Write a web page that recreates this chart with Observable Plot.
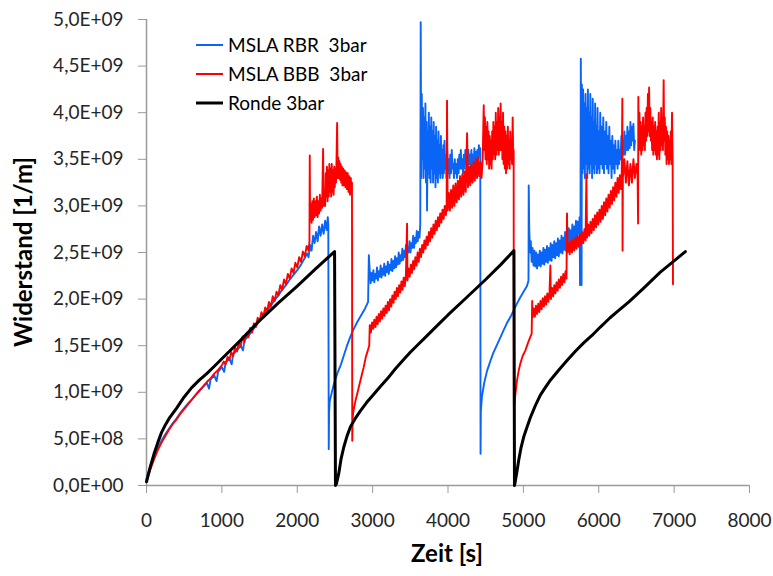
<!DOCTYPE html>
<html>
<head>
<meta charset="utf-8">
<script src="https://cdn.jsdelivr.net/npm/d3@7"></script>
<script src="https://cdn.jsdelivr.net/npm/@observablehq/plot@0.6"></script>
<style>
  html, body { margin: 0; padding: 0; background: #fff; }
  svg { display: block; }
</style>
</head>
<body>
<div id="chart"></div>
<script>
// ---- Data (time in s, Widerstand in units of 1E+09 1/m) ----
const seriesNames = ["MSLA RBR  3bar", "MSLA BBB  3bar", "Ronde 3bar"];
const xTicks = [0, 1000, 2000, 3000, 4000, 5000, 6000, 7000, 8000];
const yTicks = [0, 0.5e9, 1e9, 1.5e9, 2e9, 2.5e9, 3e9, 3.5e9, 4e9, 4.5e9, 5e9];

const rbr = [
  [0,0.07],[25,0.14],[50,0.2],[75,0.26],[100,0.31],[150,0.4],[200,0.48],[250,0.55],[300,0.61],[350,0.67],
  [400,0.72],[450,0.78],[500,0.83],[550,0.88],[600,0.92],[650,0.97],[700,1.01],[750,1.06],[800,1.10],[830,1.04],
  [850,1.14],[900,1.18],[930,1.12],[950,1.22],[1000,1.27],[1030,1.22],[1050,1.32],[1100,1.36],[1130,1.3],[1150,1.41],
  [1200,1.45],[1250,1.5],[1280,1.45],[1300,1.56],[1350,1.6],[1400,1.66],[1450,1.71],[1500,1.77],[1550,1.82],[1600,1.88],
  [1650,1.93],[1700,1.99],[1750,2.04],[1800,2.1],[1850,2.15],[1900,2.21],[1950,2.26],[2000,2.31],[2050,2.37],[2100,2.44],
  [2130,2.49],[2150,2.45],[2170,2.58],[2190,2.52],[2210,2.68],[2230,2.6],[2250,2.72],[2270,2.62],[2290,2.78],[2310,2.68],
  [2330,2.8],[2350,2.7],[2370,2.84],[2390,2.74],[2405,2.88],[2412,2.8],[2418,0.39],
  [2422,0.78],[2430,0.9],[2450,0.97],[2480,1.07],[2510,1.15],[2540,1.22],[2580,1.3],[2620,1.4],[2660,1.5],[2706,1.6],
  [2750,1.68],[2800,1.76],[2850,1.83],[2900,1.9],[2940,1.97],[2950,2.47],[2962,2.3],[2974,2.17],[2986,2.28],[2998,2.2],
  [3010,2.31],[3022,2.18],[3034,2.27],[3046,2.22],[3058,2.34],[3070,2.2],[3082,2.3],[3094,2.24],[3106,2.36],[3118,2.23],
  [3130,2.33],[3142,2.26],[3154,2.38],[3166,2.25],[3178,2.35],[3190,2.29],[3202,2.4],[3214,2.27],[3226,2.37],[3238,2.31],
  [3250,2.43],[3262,2.3],[3274,2.41],[3286,2.33],[3298,2.46],[3310,2.34],[3322,2.44],[3334,2.37],[3346,2.5],[3358,2.38],
  [3370,2.47],[3382,2.41],[3394,2.54],[3406,2.42],[3418,2.52],[3430,2.45],[3442,2.58],[3454,2.46],[3466,2.56],[3478,2.5],
  [3490,2.62],[3502,2.5],[3514,2.6],[3526,2.55],[3538,2.68],[3550,2.55],[3562,2.66],[3574,2.6],[3586,2.73],[3598,2.62],
  [3610,2.72],[3622,2.66],[3632,2.8],[3638,4.97],[3645,3.3],[3652,4.2],[3660,3.5],[3668,4.05],[3676,3.3],[3684,3.95],
  [3692,3.4],[3700,4.1],[3708,3.25],[3716,3.9],[3722,2.95],[3730,3.8],[3738,3.35],[3746,4.0],[3754,3.3],[3762,3.85],
  [3770,3.25],[3778,3.95],[3786,3.4],[3794,3.8],[3802,3.25],[3810,3.9],[3818,3.35],[3826,3.75],[3834,3.2],[3842,3.85],
  [3850,3.3],[3858,3.7],[3866,3.25],[3874,3.8],[3882,3.35],[3890,3.65],[3898,3.3],[3906,3.75],[3914,3.35],[3922,3.6],
  [3930,3.3],[3938,3.65],[3946,3.35],[3954,3.7],[3962,3.4],[3970,3.55],[3980,3.3],[3990,3.6],[4000,3.35],[4010,3.5],
  [4020,3.3],[4030,3.55],[4040,3.35],[4050,3.6],[4060,3.4],[4070,3.45],[4080,3.3],[4090,3.5],[4100,3.35],[4110,3.45],
  [4120,3.3],[4130,3.5],[4140,3.35],[4150,3.55],[4160,3.4],[4170,3.6],[4180,3.4],[4190,3.5],[4200,3.35],[4210,3.55],
  [4220,3.4],[4230,3.6],[4240,3.45],[4250,3.55],[4260,3.4],[4270,3.6],[4280,3.45],[4290,3.55],[4300,3.4],[4310,3.6],
  [4320,3.45],[4330,3.55],[4340,3.4],[4350,3.62],[4360,3.45],[4370,3.58],[4380,3.45],[4390,3.6],[4400,3.5],[4410,3.65],
  [4420,3.55],[4428,3.62],[4432,0.34],
  [4436,0.8],[4450,0.95],[4480,1.1],[4518,1.23],[4560,1.33],[4600,1.42],[4650,1.51],[4695,1.59],[4740,1.67],[4780,1.74],
  [4830,1.81],[4871,1.88],[4920,1.96],[4960,2.02],[5010,2.09],[5048,2.14],[5068,2.2],[5071,3.22],[5078,2.75],[5088,2.5],
  [5098,2.62],[5110,2.4],[5122,2.55],[5134,2.36],[5146,2.52],[5158,2.35],[5170,2.5],[5182,2.33],[5194,2.48],[5206,2.36],
  [5218,2.52],[5230,2.35],[5242,2.5],[5254,2.38],[5266,2.55],[5278,2.37],[5290,2.53],[5302,2.4],[5314,2.57],[5326,2.39],
  [5338,2.55],[5350,2.42],[5362,2.6],[5374,2.41],[5386,2.58],[5398,2.45],[5410,2.62],[5422,2.44],[5434,2.6],[5446,2.47],
  [5458,2.65],[5470,2.46],[5482,2.63],[5494,2.5],[5506,2.68],[5518,2.49],[5530,2.66],[5542,2.53],[5554,2.72],[5566,2.52],
  [5578,2.7],[5590,2.57],[5602,2.76],[5614,2.56],[5626,2.74],[5638,2.6],[5650,2.8],[5662,2.6],[5674,2.78],[5686,2.64],
  [5698,2.84],[5710,2.65],[5722,2.83],[5734,2.7],[5746,2.88],[5752,2.15],[5758,2.9],[5762,4.58],[5768,3.3],[5772,2.15],
  [5776,4.3],[5784,3.35],[5792,4.25],[5800,3.4],[5808,4.1],[5816,3.3],[5824,4.2],[5832,3.45],[5840,4.05],[5848,3.3],
  [5856,4.25],[5864,3.4],[5872,4.0],[5880,3.35],[5888,4.2],[5896,3.45],[5904,3.95],[5912,3.3],[5920,4.15],[5928,3.4],
  [5936,3.9],[5944,3.35],[5952,4.1],[5960,3.45],[5968,3.85],[5976,3.35],[5984,4.05],[5992,3.4],[6000,3.8],[6010,3.35],
  [6020,4.0],[6030,3.45],[6040,3.85],[6050,3.4],[6060,3.95],[6070,3.35],[6080,3.8],[6090,3.45],[6100,3.9],[6110,3.4],
  [6120,3.75],[6130,3.35],[6140,3.85],[6150,3.45],[6160,3.7],[6170,3.3],[6180,3.75],[6190,3.4],[6200,3.65],[6210,3.35],
  [6220,3.7],[6230,3.45],[6240,3.6],[6250,3.4],[6260,3.7],[6270,3.45],[6280,3.6],[6290,3.5],[6300,3.75],[6310,3.5],
  [6320,3.7],[6330,3.55],[6340,3.8],[6350,3.55],[6360,3.75],[6370,3.6],[6380,3.85],[6390,3.6],[6400,3.8],[6410,3.62],
  [6420,3.9],[6430,3.65],[6440,3.85],[6450,3.7],[6460,3.88],[6470,3.6],[6480,3.7]
];

const bbb = [
  [0,0.05],[25,0.11],[50,0.17],[100,0.28],[150,0.38],[200,0.46],[250,0.53],[300,0.6],[350,0.66],[400,0.71],
  [450,0.77],[500,0.82],[550,0.87],[600,0.92],[650,0.97],[700,1.02],[750,1.06],[800,1.11],[850,1.15],[900,1.2],
  [950,1.24],[1000,1.29],[1025,1.33],[1050,1.3],[1075,1.38],[1100,1.35],[1125,1.43],[1150,1.39],[1175,1.48],[1200,1.44],
  [1225,1.53],[1250,1.5],[1275,1.6],[1300,1.54],[1325,1.63],[1350,1.59],[1375,1.69],[1400,1.64],[1425,1.74],[1450,1.7],
  [1475,1.8],[1500,1.76],[1525,1.86],[1550,1.81],[1575,1.91],[1600,1.87],[1625,1.97],[1650,1.92],[1675,2.03],[1700,1.98],
  [1725,2.08],[1750,2.04],[1775,2.15],[1800,2.1],[1825,2.21],[1850,2.16],[1875,2.27],[1900,2.22],[1925,2.33],[1950,2.28],
  [1975,2.39],[2000,2.34],[2025,2.45],[2050,2.4],[2075,2.51],[2100,2.46],[2125,2.57],[2150,2.52],[2162,2.62],[2166,3.54],
  [2170,2.85],[2180,3.02],[2190,2.82],[2200,3.05],[2210,2.85],[2220,3.08],[2230,2.88],[2240,3.05],[2250,2.9],[2260,3.1],
  [2270,2.88],[2280,3.05],[2290,2.92],[2300,3.12],[2310,2.95],[2320,3.08],[2330,2.98],[2343,3.61],[2350,3.0],[2360,3.15],
  [2370,3.0],[2378,3.35],[2386,3.1],[2394,3.42],[2402,3.05],[2410,3.38],[2418,3.1],[2426,3.45],[2434,3.15],[2442,3.4],
  [2450,3.1],[2458,3.45],[2466,3.15],[2474,3.38],[2482,3.12],[2490,3.42],[2498,3.2],[2506,3.4],[2514,3.25],[2520,3.45],
  [2529,3.89],[2536,3.3],[2544,3.52],[2552,3.3],[2560,3.48],[2568,3.28],[2576,3.45],[2584,3.25],[2592,3.42],[2600,3.22],
  [2610,3.4],[2620,3.22],[2630,3.38],[2640,3.2],[2650,3.36],[2660,3.18],[2670,3.35],[2680,3.15],[2690,3.32],[2700,3.12],
  [2710,3.3],[2720,3.15],[2726,3.25],[2730,0.48],
  [2735,0.72],[2745,0.8],[2770,0.9],[2794,0.98],[2830,1.1],[2860,1.2],[2882,1.27],[2910,1.38],[2940,1.46],[2955,1.5],
  [2962,1.72],[2977,1.64],[2992,1.75],[3007,1.68],[3022,1.78],[3037,1.7],[3052,1.81],[3067,1.73],[3082,1.84],[3097,1.76],
  [3112,1.87],[3127,1.79],[3142,1.9],[3157,1.82],[3172,1.93],[3187,1.85],[3202,1.97],[3217,1.88],[3232,2.0],[3247,1.92],
  [3262,2.04],[3277,1.96],[3292,2.08],[3307,2.0],[3322,2.12],[3337,2.03],[3352,2.15],[3367,2.07],[3382,2.19],[3397,2.1],
  [3412,2.23],[3427,2.14],[3442,2.27],[3457,2.81],[3462,2.2],[3477,2.33],[3492,2.24],[3507,2.37],[3522,2.28],[3537,2.41],
  [3552,2.32],[3567,2.45],[3582,2.36],[3597,2.5],[3612,2.4],[3627,2.54],[3642,2.45],[3657,2.58],[3672,2.5],[3687,2.63],
  [3702,2.54],[3717,2.67],[3732,2.58],[3747,2.72],[3762,2.62],[3777,2.76],[3792,2.66],[3807,2.8],[3822,2.7],[3837,2.84],
  [3852,2.74],[3867,2.88],[3882,2.78],[3897,2.92],[3912,2.82],[3927,2.96],[3942,2.86],[3957,3.0],[3972,2.9],[3982,3.02],
  [3987,4.13],[3995,2.95],[4010,3.14],[4025,2.95],[4040,3.17],[4055,2.98],[4070,3.22],[4085,3.0],[4100,3.24],[4115,3.04],
  [4130,3.27],[4145,3.07],[4160,3.32],[4175,3.1],[4190,3.34],[4205,3.12],[4220,3.37],[4235,3.15],[4253,3.78],[4265,3.2],
  [4280,3.42],[4295,3.22],[4310,3.44],[4325,3.25],[4340,3.47],[4355,3.27],[4370,3.5],[4385,3.3],[4400,3.52],[4415,3.32],
  [4430,3.47],[4445,3.3],[4460,3.5],[4474,4.08],[4482,3.6],[4490,3.95],[4498,3.5],[4506,3.85],[4514,3.45],[4522,3.9],
  [4530,3.5],[4538,3.8],[4546,3.4],[4554,3.75],[4562,3.45],[4570,3.7],[4578,3.4],[4586,3.8],[4594,3.5],[4602,3.9],
  [4610,3.55],[4618,3.85],[4626,3.5],[4634,4.0],[4642,3.55],[4650,3.9],[4658,3.6],[4666,4.05],[4674,3.55],[4682,3.95],
  [4690,3.6],[4698,4.1],[4706,3.6],[4714,3.9],[4722,3.5],[4730,4.0],[4738,3.45],[4746,3.85],[4754,3.4],[4762,3.8],
  [4770,3.35],[4778,3.75],[4786,3.4],[4794,3.85],[4802,3.45],[4810,3.7],[4818,3.4],[4826,3.8],[4834,3.5],[4842,3.65],
  [4850,3.45],[4858,3.95],[4866,3.5],[4871,3.6],[4874,0.84],
  [4878,0.84],[4894,0.98],[4916,1.13],[4940,1.24],[4960,1.31],[4990,1.39],[5027,1.45],[5070,1.55],[5110,1.63],[5117,1.98],
  [5122,1.8],[5137,1.9],[5152,1.81],[5167,1.93],[5182,1.84],[5197,1.95],[5212,1.86],[5227,1.98],[5242,1.89],[5257,2.01],
  [5272,1.92],[5287,2.03],[5302,1.94],[5317,2.06],[5332,1.97],[5347,2.08],[5358,2.36],[5365,2.0],[5380,2.12],[5395,2.03],
  [5410,2.15],[5425,2.06],[5440,2.18],[5455,2.09],[5470,2.21],[5485,2.12],[5500,2.24],[5515,2.15],[5530,2.27],[5545,2.18],
  [5560,2.3],[5572,2.22],[5579,2.92],[5585,2.5],[5600,2.6],[5615,2.48],[5630,2.62],[5645,2.5],[5660,2.64],[5675,2.52],
  [5690,2.66],[5705,2.54],[5720,2.68],[5735,2.56],[5750,2.7],[5765,2.58],[5780,2.72],[5795,2.6],[5810,2.75],[5825,2.63],
  [5836,3.34],[5845,2.66],[5860,2.8],[5875,2.68],[5890,2.83],[5905,2.71],[5920,2.86],[5935,2.74],[5950,2.9],[5965,2.77],
  [5980,2.93],[5995,2.8],[6010,2.96],[6025,2.83],[6040,3.0],[6055,2.86],[6070,3.04],[6085,2.9],[6100,3.08],[6115,2.94],
  [6130,3.12],[6145,2.98],[6160,3.16],[6175,3.02],[6190,3.2],[6205,3.06],[6220,3.25],[6235,3.1],[6250,3.3],[6265,3.14],
  [6280,3.33],[6295,3.18],[6305,3.35],[6313,4.15],[6316,2.52],[6320,3.3],[6340,3.5],[6360,3.25],[6380,3.48],[6400,3.22],
  [6420,3.45],[6440,3.25],[6460,3.5],[6480,3.3],[6500,3.45],[6515,3.35],[6522,2.81],[6525,4.17],[6532,3.7],[6540,4.0],
  [6548,3.6],[6556,3.9],[6564,3.55],[6572,3.85],[6580,3.6],[6588,3.95],[6596,3.65],[6604,3.85],[6612,3.6],[6620,4.0],
  [6628,3.7],[6636,4.05],[6644,3.75],[6652,4.2],[6660,3.8],[6668,4.27],[6676,3.75],[6684,4.05],[6692,3.7],[6700,3.9],
  [6708,3.6],[6716,3.95],[6724,3.55],[6732,3.85],[6740,3.6],[6748,3.9],[6756,3.55],[6764,3.8],[6772,3.5],[6780,3.85],
  [6788,3.55],[6796,4.0],[6804,3.5],[6812,3.9],[6820,3.6],[6828,4.05],[6836,3.65],[6844,3.95],[6852,3.6],[6861,4.35],
  [6868,3.7],[6876,3.95],[6884,3.55],[6892,3.85],[6900,3.45],[6908,3.8],[6916,3.5],[6924,3.75],[6932,3.45],[6940,3.7],
  [6948,3.5],[6956,3.8],[6964,3.45],[6972,4.0],[6980,3.5],[6985,2.16]
];

const ronde = [
  [0,0.04],[50,0.2],[100,0.34],[150,0.46],[200,0.57],[250,0.65],[300,0.72],[400,0.83],[500,0.95],[600,1.05],
  [700,1.13],[800,1.2],[900,1.28],[1000,1.36],[1250,1.56],[1500,1.77],[1750,1.96],[2000,2.14],[2250,2.33],[2495,2.51],
  [2507,0.0],
  [2520,0.02],[2551,0.13],[2580,0.28],[2617,0.41],[2660,0.53],[2706,0.63],[2770,0.72],[2838,0.80],[2920,0.89],[3015,0.98],
  [3100,1.06],[3200,1.15],[3300,1.25],[3400,1.34],[3500,1.43],[3600,1.51],[3700,1.59],[3800,1.67],[3900,1.75],[4000,1.83],
  [4250,2.02],[4500,2.21],[4700,2.37],[4875,2.52],[4882,0.0],
  [4894,0.05],[4915,0.15],[4938,0.27],[4970,0.41],[5004,0.52],[5050,0.63],[5093,0.73],[5160,0.86],[5225,0.97],[5290,1.05],
  [5358,1.13],[5470,1.24],[5579,1.34],[5690,1.44],[5800,1.53],[5910,1.61],[6021,1.70],[6150,1.8],[6265,1.88],[6400,1.97],
  [6600,2.12],[6817,2.29],[7000,2.41],[7149,2.51]
];

const colors = ["#0a64f5", "#ff0000", "#000000"];
const widths = [1.9, 1.9, 3];

// ---- Build tables ----
const toRows = (pairs, name) => pairs.map(([t, v]) => ({series: name, t, r: v * 1e9}));
const tables = [toRows(rbr, seriesNames[0]), toRows(bbb, seriesNames[1]), toRows(ronde, seriesNames[2])];

const sci = d => {
  const [m, e] = d.toExponential(1).split("e");
  return m.replace(".", ",") + "E" + e[0] + e.slice(1).padStart(2, "0");
};

const axisColor = "#9a9a9a";
const textColor = "#262626";

const chart = Plot.plot({
  width: 773,
  height: 576,
  marginLeft: 146,
  marginRight: 24,
  marginTop: 19,
  marginBottom: 91,
  style: {fontFamily: "Lato, 'DejaVu Sans', sans-serif", fontSize: "19px", background: "#fff", color: textColor},
  x: {domain: [0, 8000]},
  y: {domain: [0, 5e9]},
  marks: [
    Plot.axisY({ticks: yTicks, tickFormat: sci, tickSize: 8, tickPadding: 15, stroke: axisColor, fill: textColor, fontSize: 19, label: null}),
    Plot.axisX({ticks: xTicks, tickFormat: d => String(d), tickSize: 8, tickPadding: 20, stroke: axisColor, fill: textColor, fontSize: 19, label: null}),
    Plot.ruleX([0], {stroke: axisColor, strokeWidth: 1.5}),
    Plot.ruleY([0], {stroke: axisColor, strokeWidth: 1.5}),
    ...tables.map((rows, i) => Plot.line(rows, {x: "t", y: "r", stroke: colors[i], strokeWidth: widths[i], strokeLinejoin: "round", strokeLinecap: "round"}))
  ]
});

const svg = d3.select(chart);
// Axis titles
svg.append("text")
  .attr("transform", "translate(32,252) rotate(-90)")
  .attr("text-anchor", "middle")
  .attr("font-family", "Lato, sans-serif")
  .attr("font-weight", "bold")
  .attr("font-size", 24)
  .attr("fill", "#000")
  .text("Widerstand [1/m]");
svg.append("text")
  .attr("x", 447).attr("y", 562)
  .attr("text-anchor", "middle")
  .attr("font-family", "Lato, sans-serif")
  .attr("font-weight", "bold")
  .attr("font-size", 24)
  .attr("fill", "#000")
  .text("Zeit [s]");

// Legend
const leg = svg.append("g").attr("font-family", "Lato, sans-serif").attr("font-size", 19).attr("fill", "#000").attr("text-anchor", "start");
seriesNames.forEach((name, i) => {
  const y = 45 + i * 29;
  leg.append("line").attr("x1", 196).attr("x2", 223).attr("y1", y).attr("y2", y)
    .attr("stroke", colors[i]).attr("stroke-width", i === 2 ? 3 : 2);
  leg.append("text").attr("x", 228).attr("y", y + 6.5).attr("text-anchor", "start")
    .style("white-space", "pre").attr("xml:space", "preserve").text(name);
});

document.getElementById("chart").appendChild(chart);
</script>
</body>
</html>
